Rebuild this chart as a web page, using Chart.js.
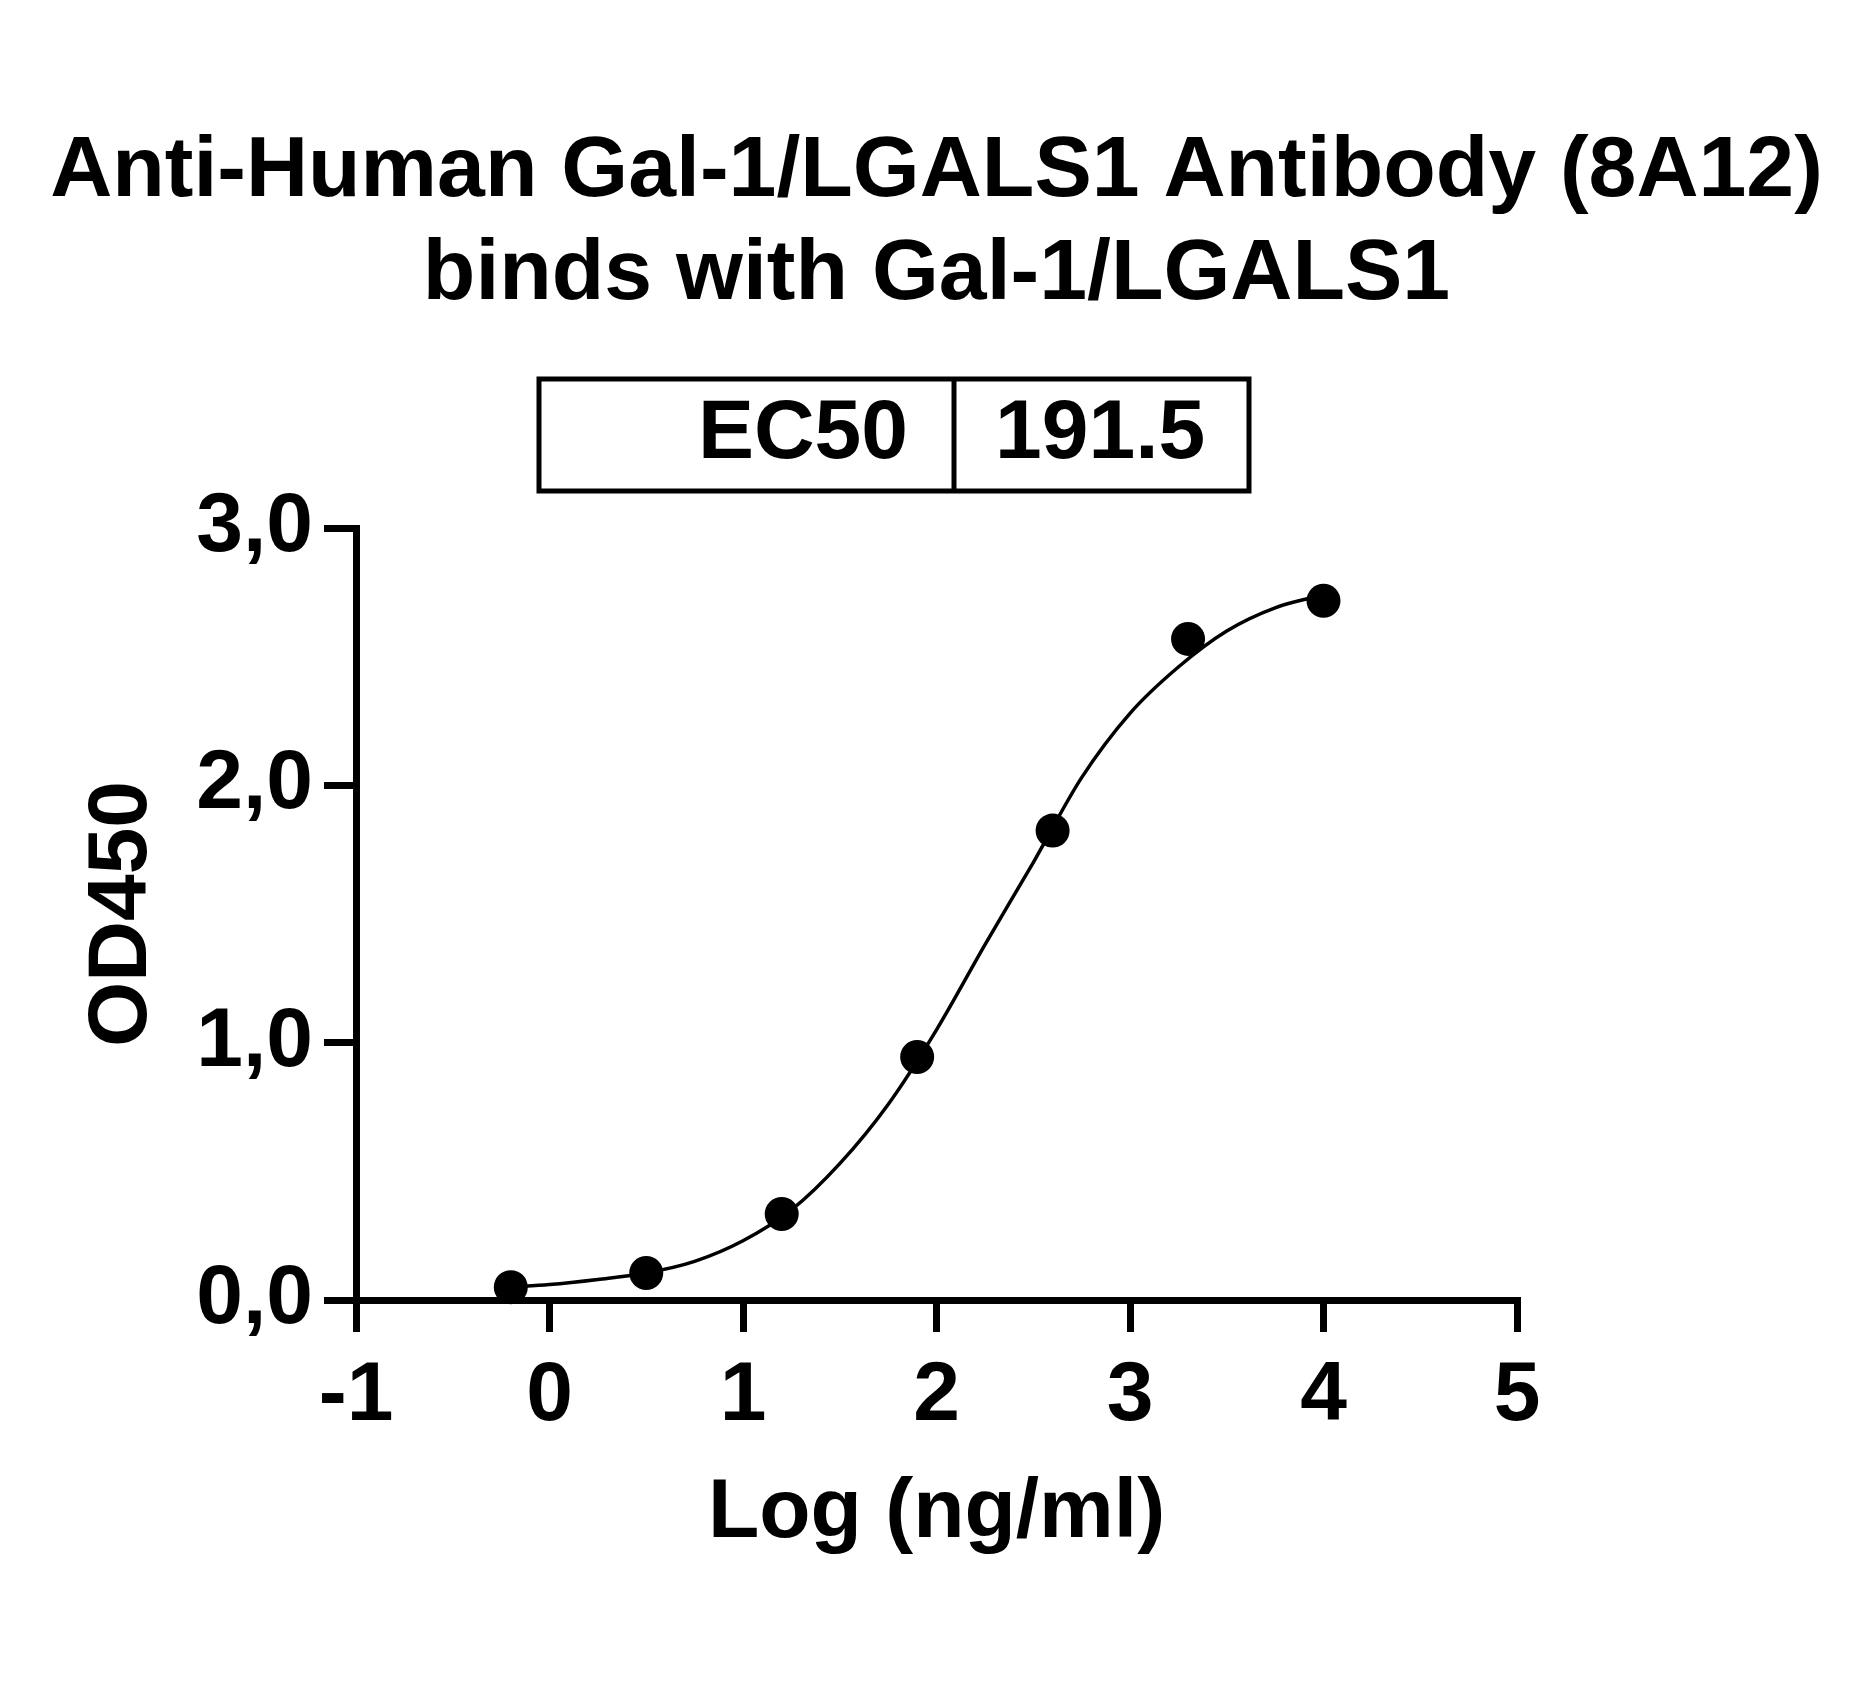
<!DOCTYPE html>
<html>
<head>
<meta charset="utf-8">
<title>Anti-Human Gal-1/LGALS1 Antibody (8A12)</title>
<script src="https://cdn.jsdelivr.net/npm/chart.js@4.4.1/dist/chart.umd.min.js"></script>
<style>
    html, body { margin: 0; padding: 0; background: #fff; }
    #wrap { width: 1873px; height: 1688px; }
</style>
</head>
<body>
<div id="wrap"><canvas id="bindingChart" width="1873" height="1688"></canvas></div>
<script>
// measured points: log concentration (ng/ml) vs OD450
const logConc = [-0.2, 0.5, 1.2, 1.9, 2.6, 3.3, 4.0];
const od450 = [0.05, 0.105, 0.334, 0.944, 1.824, 2.569, 2.717];

// fitted curve
const fitLogConc = [-0.2, 0, 0.25, 0.5, 0.75, 1, 1.25, 1.5, 1.75, 2, 2.25, 2.5, 2.75, 3, 3.25, 3.5, 3.75, 4];
const fitOd450 = [0.05, 0.06, 0.08, 0.105, 0.15, 0.23, 0.35, 0.53, 0.76, 1.05, 1.38, 1.70, 2.03, 2.28, 2.46, 2.60, 2.69, 2.74];

// axis ticks
const xTicks = [-1, 0, 1, 2, 3, 4, 5];
const yTicks = [0, 1, 2, 3];

const titleLines = ['Anti-Human Gal-1/LGALS1 Antibody (8A12)', 'binds with Gal-1/LGALS1'];
const ec50Label = 'EC50';
const ec50Value = '191.5';

const FONT = '"Liberation Sans", Arial, Helvetica, sans-serif';
const boldFont = { family: FONT, size: 84, weight: 'bold', lineHeight: 1 };

// title and EC50 table above the plot
const headerPlugin = {
    id: 'header',
    afterDraw(chart) {
        const ctx = chart.ctx;
        ctx.save();
        ctx.fillStyle = '#000';
        ctx.font = 'bold 86px ' + FONT;
        ctx.textBaseline = 'middle';
        ctx.textAlign = 'center';
        titleLines.forEach((line, i) => {
            ctx.fillText(line, chart.width / 2, 172 + i * 103.5);
        });

        ctx.font = 'bold 84px ' + FONT;
        ctx.strokeStyle = '#000';
        ctx.lineWidth = 5;
        ctx.strokeRect(539, 379, 710, 112);
        ctx.beginPath();
        ctx.moveTo(954, 379);
        ctx.lineTo(954, 491);
        ctx.stroke();
        ctx.textAlign = 'right';
        ctx.fillText(ec50Label, 908, 435);
        ctx.textAlign = 'left';
        ctx.fillText(ec50Value, 995, 435);
        ctx.restore();
    }
};

const ctx = document.getElementById('bindingChart');

new Chart(ctx, {
    type: 'scatter',
    data: {
        datasets: [
            {
                label: 'OD450',
                data: logConc.map((x, i) => ({ x: x, y: od450[i] })),
                backgroundColor: '#000',
                borderColor: '#000',
                borderWidth: 0,
                pointRadius: 17,
                pointHoverRadius: 17,
                clip: false
            },
            {
                label: 'fit',
                data: fitLogConc.map((x, i) => ({ x: x, y: fitOd450[i] })),
                showLine: true,
                borderColor: '#000',
                borderWidth: 3.5,
                pointRadius: 0,
                pointHoverRadius: 0,
                cubicInterpolationMode: 'monotone',
                clip: false
            }
        ]
    },
    options: {
        responsive: false,
        animation: false,
        devicePixelRatio: 1,
        layout: {
            autoPadding: false,
            padding: { top: 528, left: 0, right: 356, bottom: 0 }
        },
        plugins: {
            legend: { display: false },
            tooltip: { enabled: false },
            title: { display: false }
        },
        scales: {
            x: {
                type: 'linear',
                min: -1,
                max: 5,
                afterBuildTicks: (scale) => { scale.ticks = xTicks.map(v => ({ value: v })); },
                afterFit: (scale) => { scale.height = 388; },
                ticks: {
                    color: '#000',
                    font: boldFont,
                    padding: 23,
                    maxRotation: 0,
                    autoSkip: false
                },
                grid: {
                    drawOnChartArea: false,
                    drawTicks: true,
                    tickLength: 32,
                    lineWidth: 7,
                    color: '#000'
                },
                border: { display: true, width: 7, color: '#000' },
                title: {
                    display: true,
                    text: 'Log (ng/ml)',
                    color: '#000',
                    font: boldFont,
                    padding: { top: 0, bottom: 132 }
                }
            },
            y: {
                type: 'linear',
                min: 0,
                max: 3,
                afterBuildTicks: (scale) => { scale.ticks = yTicks.map(v => ({ value: v })); },
                afterFit: (scale) => { scale.width = 356; },
                ticks: {
                    color: '#000',
                    font: boldFont,
                    padding: 11,
                    callback: (v) => v.toFixed(1).replace('.', ',')
                },
                grid: {
                    drawOnChartArea: false,
                    drawTicks: true,
                    tickLength: 32,
                    lineWidth: 7,
                    color: '#000'
                },
                border: { display: true, width: 7, color: '#000' },
                title: {
                    display: true,
                    text: 'OD450',
                    color: '#000',
                    font: boldFont,
                    padding: { top: 81, bottom: 0 }
                }
            }
        }
    },
    plugins: [headerPlugin]
});
</script>
</body>
</html>
